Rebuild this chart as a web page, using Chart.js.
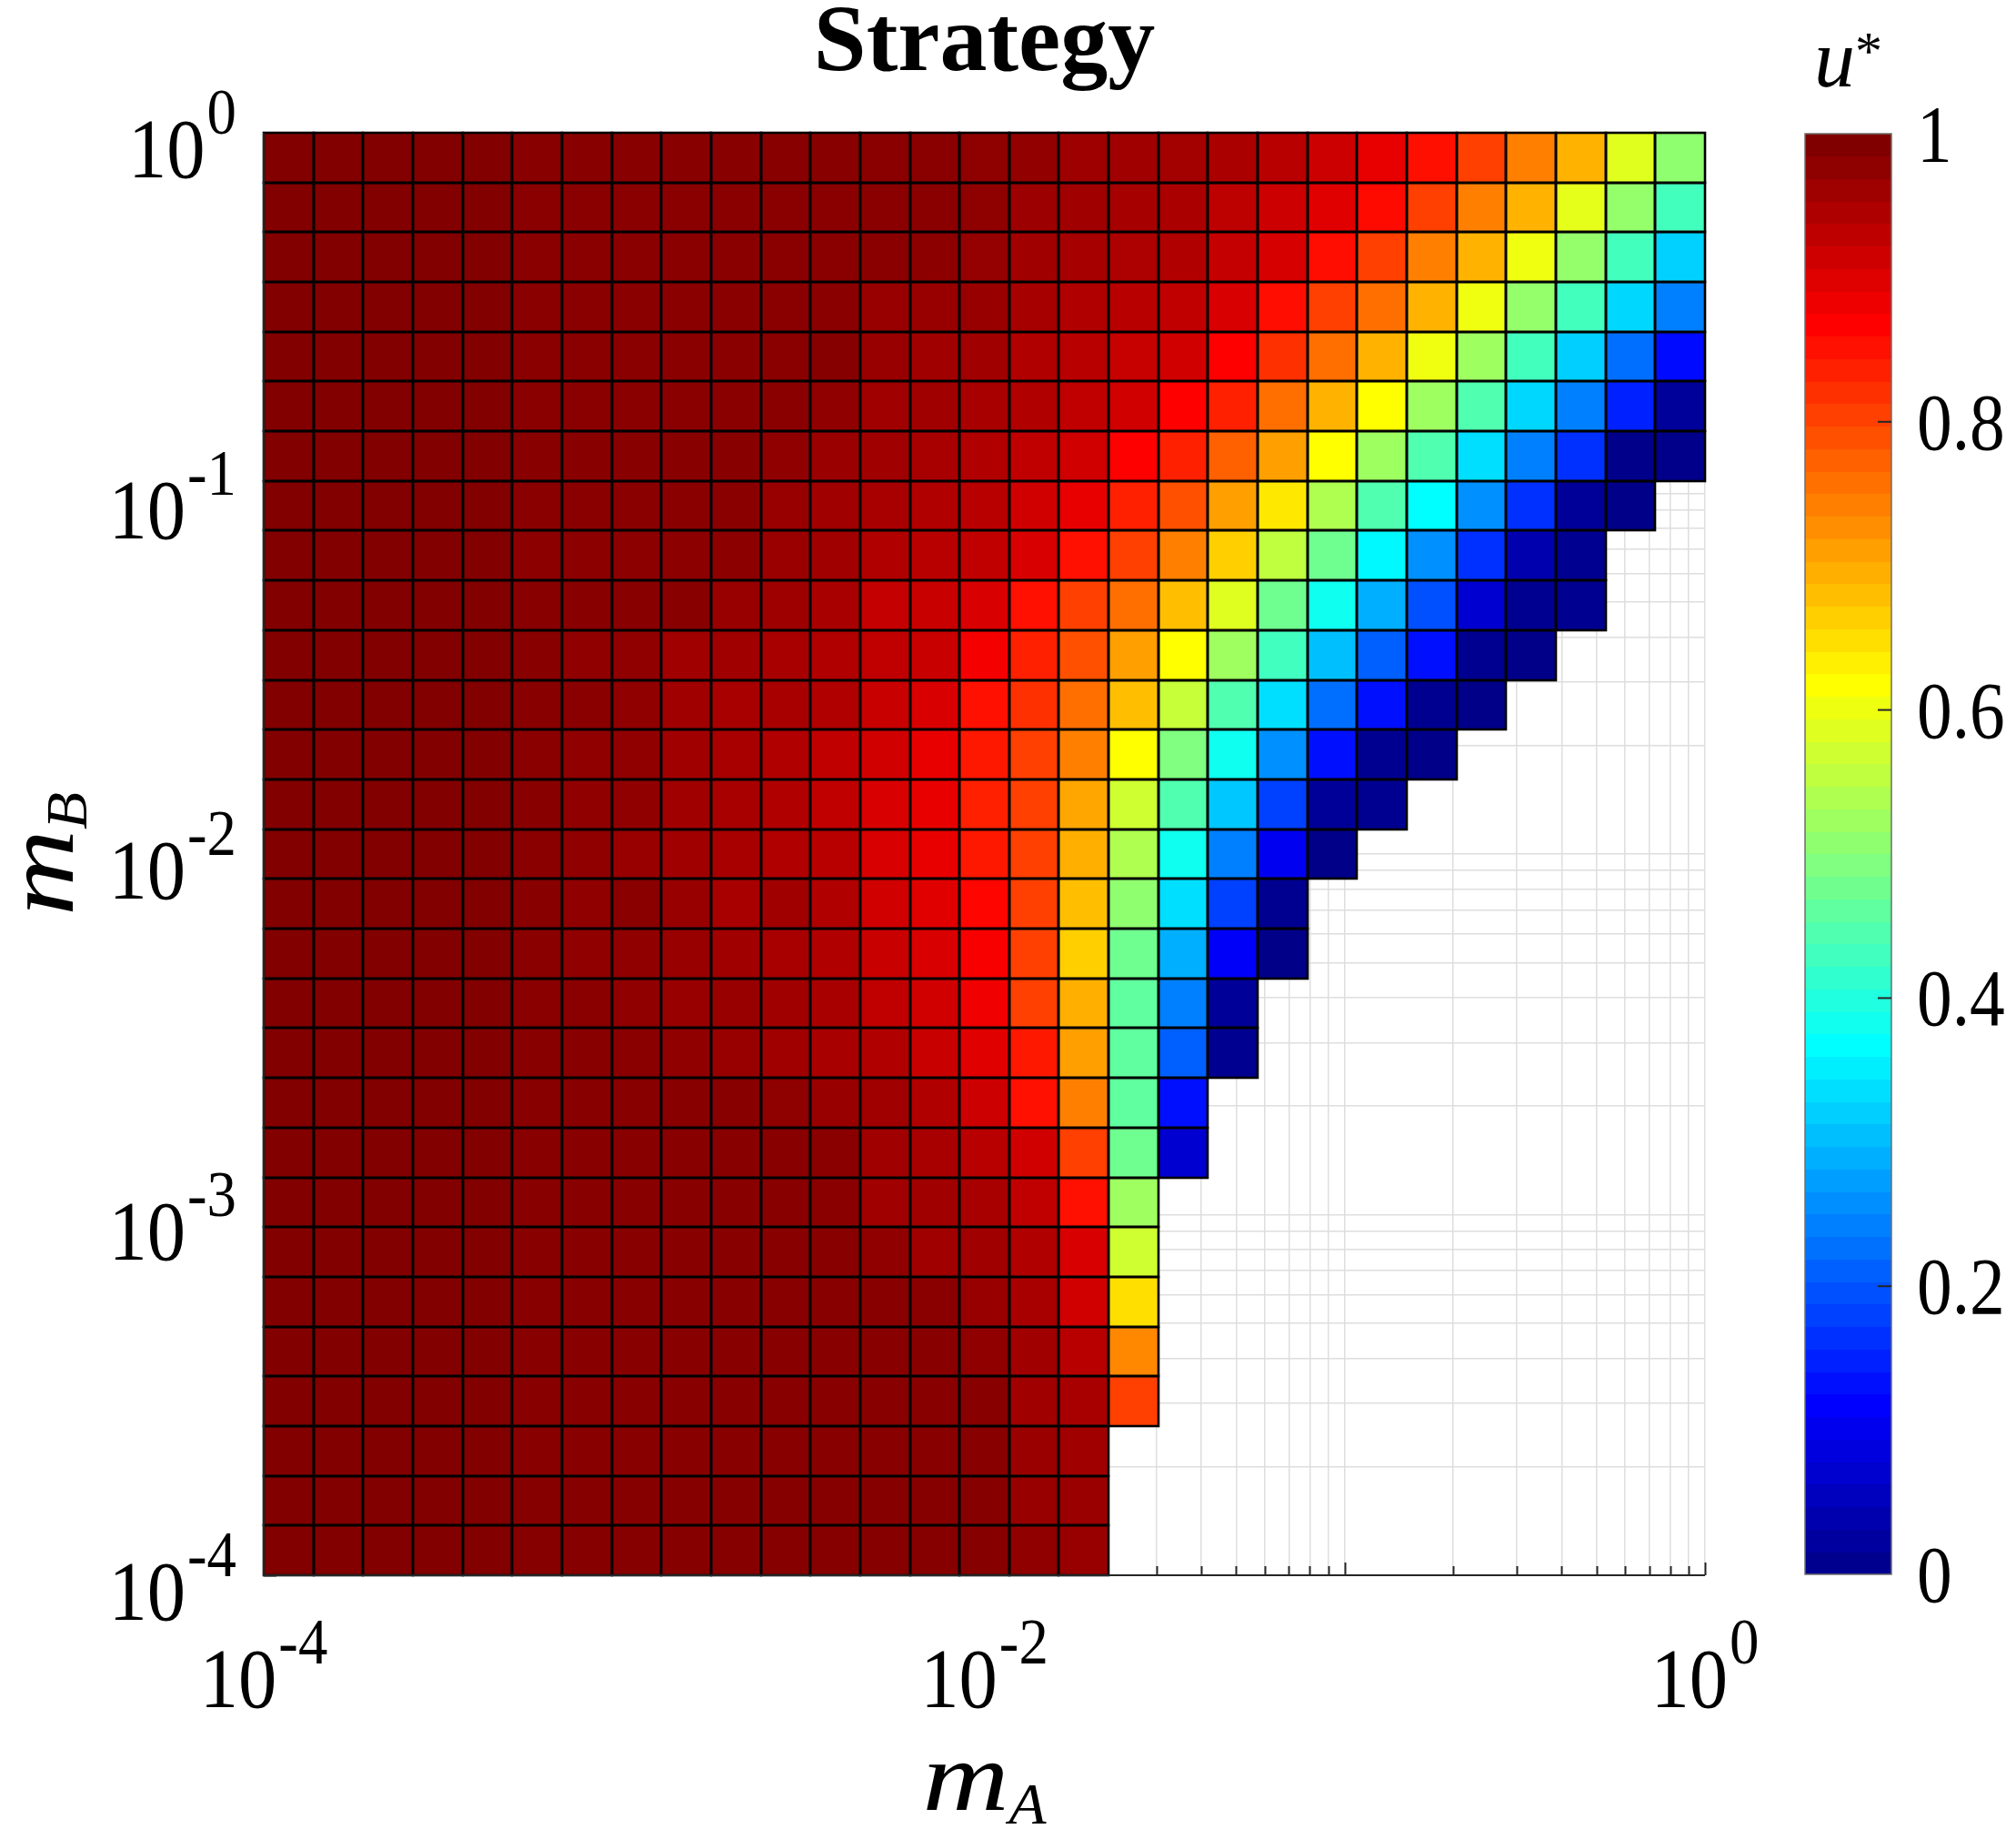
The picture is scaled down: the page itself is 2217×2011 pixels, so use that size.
<!DOCTYPE html>
<html><head><meta charset="utf-8">
<script src="https://cdn.jsdelivr.net/npm/chart.js@4.4.1/dist/chart.umd.min.js"></script>
<style>html,body{margin:0;padding:0;background:#fff;overflow:hidden}canvas{display:block}</style>
</head><body>
<canvas id="c" width="2217" height="2011" style="width:2217px;height:2011px"></canvas>
<script>
// ---- data ----
// cell edges along m_A (log10 exponents, left to right)
const mAEdgeExp = [-4.0000,-3.8621,-3.7241,-3.5862,-3.4483,-3.3103,-3.1724,-3.0345,-2.8966,-2.7586,-2.6207,-2.4828,-2.3448,-2.2069,-2.0690,-1.9310,-1.7931,-1.6552,-1.5172,-1.3793,-1.2414,-1.1034,-0.9655,-0.8276,-0.6897,-0.5517,-0.4138,-0.2759,-0.1379,0.0000];
// cell edges along m_B (log10 exponents, top to bottom)
const mBEdgeExp = [0.0000,-0.1379,-0.2759,-0.4138,-0.5517,-0.6897,-0.8276,-0.9655,-1.1034,-1.2414,-1.3793,-1.5172,-1.6552,-1.7931,-1.9310,-2.0690,-2.2069,-2.3448,-2.4828,-2.6207,-2.7586,-2.8966,-3.0345,-3.1724,-3.3103,-3.4483,-3.5862,-3.7241,-3.8621,-4.0000];
// u* values, first row = top (m_B near 1), columns left to right (m_A); null = no value
const uStarRows = [
[0.998,0.998,0.998,0.998,0.998,0.992,0.992,0.992,0.992,0.992,0.992,0.992,0.990,0.990,0.985,0.982,0.970,0.968,0.965,0.958,0.945,0.925,0.898,0.860,0.812,0.750,0.700,0.595,0.515],
[0.998,0.998,0.998,0.998,0.998,0.990,0.990,0.990,0.990,0.990,0.990,0.990,0.990,0.990,0.985,0.972,0.968,0.962,0.958,0.940,0.925,0.905,0.865,0.812,0.750,0.700,0.600,0.520,0.440],
[0.998,0.998,0.998,0.998,0.998,0.990,0.990,0.990,0.990,0.990,0.990,0.990,0.990,0.987,0.979,0.968,0.962,0.955,0.952,0.932,0.915,0.862,0.812,0.750,0.700,0.610,0.520,0.440,0.330],
[0.998,0.998,0.998,0.998,0.998,0.990,0.990,0.990,0.990,0.990,0.990,0.990,0.976,0.976,0.976,0.962,0.952,0.945,0.937,0.913,0.862,0.812,0.766,0.700,0.610,0.520,0.440,0.336,0.250],
[0.998,0.998,0.998,0.998,0.998,0.990,0.990,0.990,0.990,0.990,0.990,0.993,0.976,0.968,0.968,0.952,0.945,0.930,0.921,0.875,0.828,0.766,0.700,0.610,0.530,0.440,0.328,0.234,0.135],
[0.998,0.998,0.998,0.998,0.998,0.990,0.990,0.990,0.990,0.990,0.990,0.984,0.968,0.968,0.960,0.952,0.937,0.921,0.875,0.844,0.766,0.700,0.625,0.530,0.453,0.336,0.250,0.156,0.026],
[0.998,0.998,0.998,0.998,0.998,0.992,0.992,0.992,0.992,0.992,0.984,0.974,0.968,0.960,0.952,0.937,0.921,0.875,0.844,0.781,0.719,0.625,0.530,0.453,0.344,0.250,0.172,0.010,0.010],
[0.998,0.998,0.998,0.998,0.998,0.990,0.990,0.990,0.990,0.990,0.976,0.968,0.960,0.952,0.945,0.921,0.898,0.844,0.797,0.719,0.648,0.547,0.453,0.375,0.266,0.172,0.024,0.008,null],
[0.998,0.998,0.998,0.998,0.998,0.988,0.988,0.988,0.988,0.988,0.974,0.968,0.952,0.945,0.937,0.913,0.859,0.812,0.750,0.672,0.5625,0.484,0.368,0.266,0.172,0.047,0.016,null,null],
[0.998,0.998,0.998,0.998,0.998,0.992,0.992,0.992,0.992,0.976,0.970,0.960,0.933,0.929,0.913,0.859,0.812,0.766,0.6875,0.594,0.484,0.390,0.297,0.203,0.079,0.016,0.016,null,null],
[0.998,0.998,0.998,0.998,0.998,0.992,0.984,0.984,0.968,0.968,0.960,0.952,0.937,0.929,0.885,0.844,0.797,0.719,0.625,0.531,0.4375,0.3125,0.219,0.141,0.016,0.008,null,null,null],
[0.998,0.998,0.998,0.998,0.998,0.992,0.990,0.984,0.968,0.960,0.960,0.952,0.929,0.913,0.859,0.828,0.766,0.6875,0.570,0.453,0.344,0.234,0.141,0.016,0.008,null,null,null,null],
[0.998,0.998,0.998,0.998,0.998,0.990,0.984,0.984,0.968,0.960,0.952,0.937,0.921,0.898,0.851,0.812,0.750,0.625,0.500,0.390,0.266,0.141,0.016,0.008,null,null,null,null,null],
[0.998,0.998,0.998,0.998,0.998,0.992,0.984,0.984,0.968,0.960,0.952,0.937,0.913,0.898,0.844,0.812,0.711,0.578,0.453,0.320,0.1875,0.024,0.016,null,null,null,null,null,null],
[0.998,0.998,0.998,0.998,0.998,0.990,0.984,0.976,0.968,0.960,0.952,0.945,0.913,0.898,0.851,0.812,0.703,0.547,0.390,0.250,0.110,0.008,null,null,null,null,null,null,null],
[0.998,0.998,0.998,0.998,0.998,0.992,0.984,0.990,0.976,0.960,0.968,0.952,0.921,0.905,0.870,0.812,0.6875,0.516,0.344,0.1875,0.016,null,null,null,null,null,null,null,null],
[0.998,0.998,0.998,0.998,0.998,0.990,0.984,0.984,0.976,0.968,0.960,0.952,0.929,0.913,0.882,0.812,0.672,0.484,0.297,0.118,0.008,null,null,null,null,null,null,null,null],
[0.998,0.998,0.998,0.998,0.998,0.990,0.990,0.984,0.976,0.976,0.968,0.960,0.937,0.921,0.890,0.812,0.703,0.469,0.250,0.024,null,null,null,null,null,null,null,null,null],
[0.998,0.998,0.998,0.998,0.998,0.992,0.992,0.990,0.984,0.976,0.968,0.960,0.952,0.929,0.905,0.851,0.719,0.469,0.219,0.016,null,null,null,null,null,null,null,null,null],
[0.998,0.998,0.998,0.998,0.998,0.992,0.992,0.992,0.992,0.992,0.985,0.976,0.968,0.952,0.925,0.859,0.750,0.469,0.141,null,null,null,null,null,null,null,null,null,null],
[0.998,0.998,0.998,0.998,0.998,0.992,0.992,0.992,0.992,0.992,0.992,0.990,0.968,0.960,0.945,0.921,0.812,0.484,0.079,null,null,null,null,null,null,null,null,null,null],
[0.998,0.998,0.998,0.998,0.998,0.992,0.992,0.992,0.992,0.992,0.992,0.990,0.968,0.968,0.960,0.937,0.859,0.531,null,null,null,null,null,null,null,null,null,null,null],
[0.998,0.998,0.998,0.998,0.998,0.992,0.992,0.992,0.992,0.992,0.992,0.992,0.984,0.968,0.968,0.952,0.913,0.578,null,null,null,null,null,null,null,null,null,null,null],
[0.998,0.998,0.998,0.998,0.998,0.992,0.992,0.992,0.992,0.992,0.992,0.992,0.992,0.990,0.976,0.960,0.921,0.656,null,null,null,null,null,null,null,null,null,null,null],
[0.998,0.998,0.998,0.998,0.998,0.992,0.992,0.992,0.992,0.992,0.992,0.992,0.992,0.992,0.984,0.968,0.945,0.742,null,null,null,null,null,null,null,null,null,null,null],
[0.998,0.998,0.998,0.998,0.998,0.992,0.992,0.992,0.992,0.992,0.992,0.992,0.992,0.992,0.992,0.968,0.960,0.812,null,null,null,null,null,null,null,null,null,null,null],
[0.998,0.998,0.998,0.998,0.998,0.992,0.992,0.992,0.992,0.992,0.992,0.992,0.992,0.992,0.992,0.974,0.968,null,null,null,null,null,null,null,null,null,null,null,null],
[0.998,0.998,0.998,0.998,0.998,0.993,0.993,0.993,0.993,0.993,0.993,0.993,0.993,0.993,0.993,0.976,0.974,null,null,null,null,null,null,null,null,null,null,null,null],
[0.998,0.998,0.998,0.998,0.998,0.993,0.993,0.993,0.993,0.993,0.993,0.993,0.993,0.993,0.993,0.984,0.976,null,null,null,null,null,null,null,null,null,null,null,null]
];
// grid / tick positions (major + minor) on both log axes
const gridTicks = [0.0001,0.0002,0.0003,0.0004,0.0005,0.0006,0.0007,0.0008,0.0009,0.001,0.002,0.003,0.004,0.005,0.006,0.007,0.008,0.009,0.01,0.02,0.03,0.04,0.05,0.06,0.07,0.08,0.09,0.1,0.2,0.3,0.4,0.5,0.6,0.7,0.8,0.9,1];
const decadeTicks = [0.0001,0.001,0.01,0.1,1];
const xLabelTicks = [0.0001,0.01,1];
const xLabelExp = ['-4','-2','0'];
const yLabelTicks = [1,0.1,0.01,0.001,0.0001];
const yLabelExp = ['0','-1','-2','-3','-4'];
const cbTicks = [0,0.2,0.4,0.6,0.8,1];
const cbLabels = ['0','0.2','0.4','0.6','0.8','1'];

// ---- colormaps ----
function clamp01(t){return Math.max(0,Math.min(1,t));}
function jet(v){
  const r=clamp01(Math.min(4*v-1.5,-4*v+4.5));
  const g=clamp01(Math.min(4*v-0.5,-4*v+3.5));
  const b=clamp01(Math.min(4*v+0.5,-4*v+2.5));
  return 'rgb('+Math.round(r*255)+','+Math.round(g*255)+','+Math.round(b*255)+')';
}
function jet64(i){
  let r=0,g=0,b=0;
  if(i<=8)b=(i+8)/16;else if(i<=24)b=1;else if(i<=40)b=(40-i)/16;
  if(i>=9&&i<=24)g=(i-8)/16;else if(i>=25&&i<=40)g=1;else if(i>=41&&i<=56)g=(56-i)/16;
  if(i>=25&&i<=40)r=(i-24)/16;else if(i>=41&&i<=56)r=1;else if(i>=57)r=(72-i)/16;
  return 'rgb('+Math.round(r*255)+','+Math.round(g*255)+','+Math.round(b*255)+')';
}

// ---- build cell points ----
const cellPoints=[];
for(let r=0;r<uStarRows.length;r++){
  for(let c=0;c<uStarRows[r].length;c++){
    const v=uStarRows[r][c];
    if(v===null)continue;
    cellPoints.push({x:Math.pow(10,(mAEdgeExp[c]+mAEdgeExp[c+1])/2),y:Math.pow(10,(mBEdgeExp[r]+mBEdgeExp[r+1])/2),c:c,r:r,v:v});
  }
}

const SERIF='"Liberation Serif","Times New Roman",serif';
function drawScaled(ctx,text,font,x,y,sx){
  ctx.save();ctx.translate(x,y);ctx.scale(sx,1);ctx.font=font;ctx.textAlign='left';ctx.textBaseline='alphabetic';ctx.fillText(text,0,0);ctx.restore();
}
function measure(ctx,text,font,sx){ctx.save();ctx.font=font;const w=ctx.measureText(text).width*sx;ctx.restore();return w;}
function drawSci(ctx,exp,x,yb,align){
  const bf='94px '+SERIF, sf='72px '+SERIF, sx=0.9, gap=2;
  const wb=measure(ctx,'10',bf,sx), ws=measure(ctx,exp,sf,sx);
  const tot=wb+gap+ws;
  const x0=align==='right'?x-tot:x-tot/2;
  ctx.fillStyle='#000';
  drawScaled(ctx,'10',bf,x0,yb,sx);
  drawScaled(ctx,exp,sf,x0+wb+gap,yb-48,sx);
}

const heatPlugin={
  id:'heat',
  beforeDatasetsDraw(chart){
    const ctx=chart.ctx,xs=chart.scales.x,ys=chart.scales.y,a=chart.chartArea;
    ctx.save();
    // inward tick marks on bottom and left axes (under cells, like MATLAB default layer)
    ctx.strokeStyle='#262626';ctx.lineWidth=2;
    gridTicks.forEach(t=>{
      const len=decadeTicks.includes(t)?14:10;
      const px=Math.round(xs.getPixelForValue(t))+0.5;
      const py=Math.round(ys.getPixelForValue(t))+0.5;
      ctx.beginPath();
      ctx.moveTo(px,a.bottom);ctx.lineTo(px,a.bottom-len);
      ctx.moveTo(a.left,py);ctx.lineTo(a.left+len,py);
      ctx.stroke();
    });
    // cells
    const pts=chart.data.datasets[0].data;
    const rect=p=>{
      const x0=Math.round(xs.getPixelForValue(Math.pow(10,mAEdgeExp[p.c])));
      const x1=Math.round(xs.getPixelForValue(Math.pow(10,mAEdgeExp[p.c+1])));
      const y0=Math.round(ys.getPixelForValue(Math.pow(10,mBEdgeExp[p.r])));
      const y1=Math.round(ys.getPixelForValue(Math.pow(10,mBEdgeExp[p.r+1])));
      return [x0,y0,x1-x0,y1-y0];
    };
    pts.forEach(p=>{const q=rect(p);ctx.fillStyle=jet(p.v);ctx.fillRect(q[0],q[1],q[2],q[3]);});
    ctx.strokeStyle='#000';ctx.lineWidth=2.6;
    pts.forEach(p=>{const q=rect(p);ctx.strokeRect(q[0],q[1],q[2],q[3]);});
    ctx.restore();
  },
  afterDraw(chart){
    const ctx=chart.ctx,xs=chart.scales.x,ys=chart.scales.y,a=chart.chartArea;
    ctx.save();
    // axis lines (left and bottom only)
    ctx.strokeStyle='#262626';ctx.lineWidth=2;
    ctx.beginPath();ctx.moveTo(a.left,a.top);ctx.lineTo(a.left,a.bottom);ctx.lineTo(a.right,a.bottom);ctx.stroke();
    // tick labels
    xLabelTicks.forEach((t,i)=>drawSci(ctx,xLabelExp[i],xs.getPixelForValue(t),a.bottom+145,'center'));
    yLabelTicks.forEach((t,i)=>drawSci(ctx,yLabelExp[i],a.left-30,ys.getPixelForValue(t)+49,'right'));
    // title
    ctx.fillStyle='#000';ctx.font='bold 104px '+SERIF;ctx.textAlign='center';ctx.textBaseline='alphabetic';
    ctx.fillText('Strategy',(a.left+a.right)/2,77);
    // x axis title m_A
    const mf='italic 108px '+SERIF, sf='italic 64px '+SERIF, msx=1.22;
    const mw=measure(ctx,'m',mf,msx), aw=measure(ctx,'A',sf,1.05);
    const gx=(a.left+a.right)/2-(mw+aw)/2;
    drawScaled(ctx,'m',mf,gx,1990,msx);
    drawScaled(ctx,'A',sf,gx+mw,2005,1.05);
    // y axis title m_B (rotated)
    ctx.save();
    ctx.translate(80,(a.top+a.bottom)/2);ctx.rotate(-Math.PI/2);
    const bw=measure(ctx,'B',sf,1.05);
    const gy=-(mw+bw)/2;
    drawScaled(ctx,'m',mf,gy,0,msx);
    drawScaled(ctx,'B',sf,gy+mw,15,1.05);
    ctx.restore();
    // colorbar
    const cbL=1985,cbR=2080,cbT=a.top+1,cbB=a.bottom-1;
    const h=(cbB-cbT)/64;
    for(let k=1;k<=64;k++){
      ctx.fillStyle=jet64(k);
      const yt=Math.floor(cbB-k*h), yb=Math.ceil(cbB-(k-1)*h);
      ctx.fillRect(cbL,yt,cbR-cbL,yb-yt);
    }
    ctx.strokeStyle='#6e6e6e';ctx.lineWidth=1.5;ctx.strokeRect(cbL,cbT,cbR-cbL,cbB-cbT);
    ctx.strokeStyle='#262626';ctx.lineWidth=2;
    cbTicks.forEach((t,i)=>{
      const y=cbB-t*(cbB-cbT);
      if(t>0&&t<1){ctx.beginPath();ctx.moveTo(cbR,y);ctx.lineTo(cbR-15,y);ctx.stroke();}
      ctx.fillStyle='#000';
      drawScaled(ctx,cbLabels[i],'88px '+SERIF,2108,y+30,0.88);
    });
    // colorbar label u*
    ctx.fillStyle='#000';
    drawScaled(ctx,'u','italic 90px '+SERIF,1995,95,1);
    drawScaled(ctx,'*','60px '+SERIF,2040,76,1);
    ctx.restore();
  }
};

new Chart(document.getElementById('c'),{
  type:'scatter',
  data:{datasets:[{label:'u*',data:cellPoints,pointRadius:0,pointHoverRadius:0,showLine:false}]},
  options:{
    responsive:false,animation:false,devicePixelRatio:1,events:[],
    layout:{padding:{left:290,right:342,top:146,bottom:279}},
    plugins:{legend:{display:false},tooltip:{enabled:false},title:{display:false}},
    scales:{
      x:{type:'logarithmic',min:0.0001,max:1,position:'bottom',
        afterBuildTicks:s=>{s.ticks=gridTicks.map(v=>({value:v}));},
        afterFit:s=>{s.height=0;},
        ticks:{display:false},grid:{color:'#dedede',lineWidth:1.5,drawTicks:false},border:{display:false}},
      y:{type:'logarithmic',min:0.0001,max:1,position:'left',
        afterBuildTicks:s=>{s.ticks=gridTicks.map(v=>({value:v}));},
        afterFit:s=>{s.width=0;},
        ticks:{display:false},grid:{color:'#dedede',lineWidth:1.5,drawTicks:false},border:{display:false}}
    }
  },
  plugins:[heatPlugin]
});
</script>
</body></html>
